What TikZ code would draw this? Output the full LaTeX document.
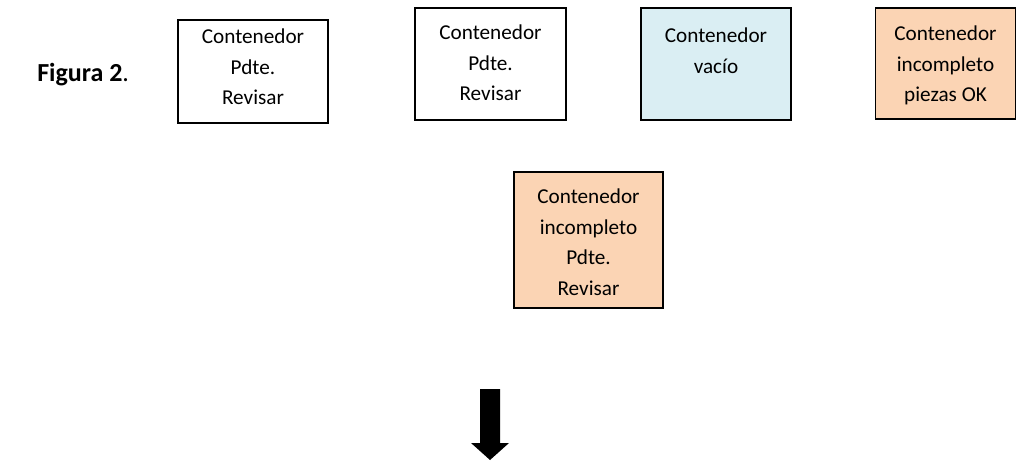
\documentclass[tikz,border=0pt]{standalone}
\usepackage{fontspec}
\setmainfont{Carlito}
\definecolor{aquapale}{HTML}{DAEEF3}
\definecolor{peach}{HTML}{FBD4B4}
\begin{document}
\begin{tikzpicture}[x=0.75pt,y=-0.75pt,
  box/.style={draw=black,line width=1.4pt,rectangle,inner sep=0pt},
  lbl/.style={align=center,inner sep=0pt,anchor=north,
    font=\fontsize{15.9pt}{22.8pt}\selectfont},
  blockarrow/.style={fill=black,draw=none}]
\useasboundingbox (0,0) rectangle (1016,460);

% caption
\node[anchor=base west,inner sep=0pt,font=\fontsize{19.5pt}{22pt}\selectfont] (fig) at (37,81) {\textbf{Figura 2}.};

% upper row of containers
\node[box,minimum width=112.5pt,minimum height=77.25pt] (b1) at (253,71.5) {};
\node[lbl] (t1) at (253,29) {Contenedor\\Pdte.\\Revisar};

\node[box,minimum width=113.25pt,minimum height=84pt] (b2) at (490.5,64) {};
\node[lbl] (t2) at (490.5,25) {Contenedor\\Pdte.\\Revisar};

\node[box,fill=aquapale,minimum width=112.5pt,minimum height=84pt] (b3) at (716,64) {};
\node[lbl] (t3) at (716,28) {Contenedor\\vacío};

\node[box,fill=peach,minimum width=105pt,minimum height=83.25pt] (b4) at (945.5,63.5) {};
\node[lbl] (t4) at (945.5,26) {Contenedor\\incompleto\\piezas OK};

% lower container
\node[box,fill=peach,minimum width=111.75pt,minimum height=102pt] (b5) at (588.5,240) {};
\node[lbl] (t5) at (588.5,189) {Contenedor\\incompleto\\Pdte.\\Revisar};

% downward block arrow
\fill[blockarrow] (480,389) -- (500,389) -- (500,443) -- (509,443)
  -- (490,460) -- (471,443) -- (480,443) -- cycle;
\end{tikzpicture}
\end{document}
